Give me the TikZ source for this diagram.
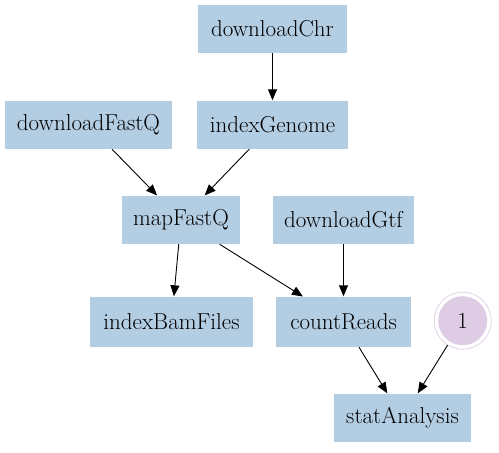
\documentclass[tikz,border=0pt]{standalone}
\usetikzlibrary{arrows.meta}
\definecolor{boxblue}{HTML}{B3CDE3}
\definecolor{circpurple}{HTML}{DECBE4}
\begin{document}
\begin{tikzpicture}[x=1pt,y=-1pt,
  task/.style={fill=boxblue, draw=none, minimum height=48pt, inner sep=0pt, font=\fontsize{23}{27}\selectfont},
  edge/.style={draw=black, line width=0.9pt, -{Triangle[length=11pt,width=9pt]}, shorten >=0.5pt}]
\useasboundingbox (0,0) rectangle (499,453);
\node[task, minimum width=149pt] (chr) at (272.5,29) {downloadChr};
\node[task, minimum width=167pt] (fq) at (88.5,125) {downloadFastQ};
\node[task, minimum width=151pt] (ig) at (272.5,125) {indexGenome};
\node[task, minimum width=118pt] (map) at (181,220) {mapFastQ};
\node[task, minimum width=141pt] (gtf) at (343.5,220) {downloadGtf};
\node[task, minimum width=163pt, minimum height=50pt] (bam) at (171.5,322) {indexBamFiles};
\node[task, minimum width=135pt, minimum height=50pt] (cr) at (343.5,322) {countReads};
\node[circle, fill=circpurple, minimum size=49pt, inner sep=0pt, font=\fontsize{23}{27}\selectfont] (one) at (462.7,320.7) {1};
\draw[circpurple, line width=0.7pt] (one.center) circle (28.5pt);
\node[task, minimum width=137pt] (sa) at (402.5,418) {statAnalysis};
\draw[edge] (chr) -- (ig);
\draw[edge] (fq) -- (map);
\draw[edge] (ig) -- (map);
\draw[edge] (map) -- (bam);
\draw[edge] (map) -- (cr);
\draw[edge] (gtf) -- (cr);
\draw[edge] (cr) -- (sa);
\draw[edge, shorten <=4pt] (one) -- (sa);
\end{tikzpicture}
\end{document}
